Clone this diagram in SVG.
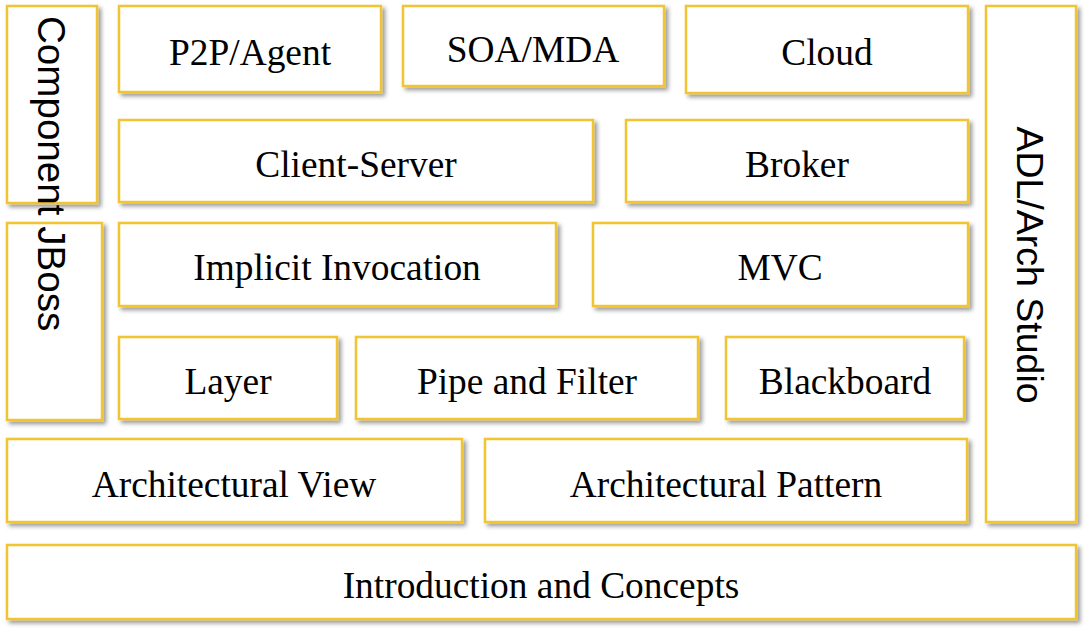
<svg xmlns="http://www.w3.org/2000/svg" width="1091" height="633" viewBox="0 0 1091 633">
<defs>
<filter id="sh" x="-10%" y="-10%" width="130%" height="130%">
<feDropShadow dx="3" dy="3" stdDeviation="2" flood-color="#000" flood-opacity="0.4"/>
</filter>
</defs>
<style>
.b{fill:#fff;stroke:#F1C431;stroke-width:2.5;filter:url(#sh)}
.t{font-family:"Liberation Serif","Times New Roman",serif;font-size:37.4px;fill:#000;text-anchor:middle}
.v{font-family:"Liberation Sans",Arial,sans-serif;fill:#000}
</style>
<rect width="1091" height="633" fill="#fff"/>
<g id="component"><rect class="b" x="7" y="6" width="90" height="197"/></g>
<g id="jboss"><rect class="b" x="7" y="223" width="95" height="197"/></g>
<g id="component-jboss-label"><text class="v" font-size="38.6" transform="translate(38,16) rotate(90)">Component JBoss</text></g>
<g id="p2p"><rect class="b" x="119" y="6" width="262" height="86"/><text class="t" x="250" y="65">P2P/Agent</text></g>
<g id="soa"><rect class="b" x="403" y="6" width="261" height="80"/><text class="t" x="533" y="62">SOA/MDA</text></g>
<g id="cloud"><rect class="b" x="686" y="6" width="282" height="87"/><text class="t" x="827" y="65">Cloud</text></g>
<g id="adl"><rect class="b" x="986" y="6" width="90" height="516"/><text class="v" font-size="37.5" text-anchor="middle" transform="translate(1017,265) rotate(90)">ADL/Arch Studio</text></g>
<g id="client-server"><rect class="b" x="119" y="120" width="474" height="82"/><text class="t" x="356" y="177">Client-Server</text></g>
<g id="broker"><rect class="b" x="626" y="120" width="342" height="82"/><text class="t" x="797" y="177">Broker</text></g>
<g id="implicit"><rect class="b" x="119" y="223" width="437" height="83"/><text class="t" x="337" y="280">Implicit Invocation</text></g>
<g id="mvc"><rect class="b" x="593" y="223" width="375" height="83"/><text class="t" x="780" y="280">MVC</text></g>
<g id="layer"><rect class="b" x="119" y="337" width="218" height="82"/><text class="t" x="228" y="394">Layer</text></g>
<g id="pipe"><rect class="b" x="356" y="337" width="342" height="82"/><text class="t" x="527" y="394">Pipe and Filter</text></g>
<g id="blackboard"><rect class="b" x="726" y="337" width="238" height="82"/><text class="t" x="845" y="394">Blackboard</text></g>
<g id="arch-view"><rect class="b" x="7" y="439" width="455" height="83"/><text class="t" x="234" y="497">Architectural View</text></g>
<g id="arch-pattern"><rect class="b" x="485" y="439" width="482" height="83"/><text class="t" x="726" y="497">Architectural Pattern</text></g>
<g id="intro"><rect class="b" x="7" y="545" width="1069" height="74"/><text class="t" x="541" y="598">Introduction and Concepts</text></g>
<g id="connectors"/>
</svg>
